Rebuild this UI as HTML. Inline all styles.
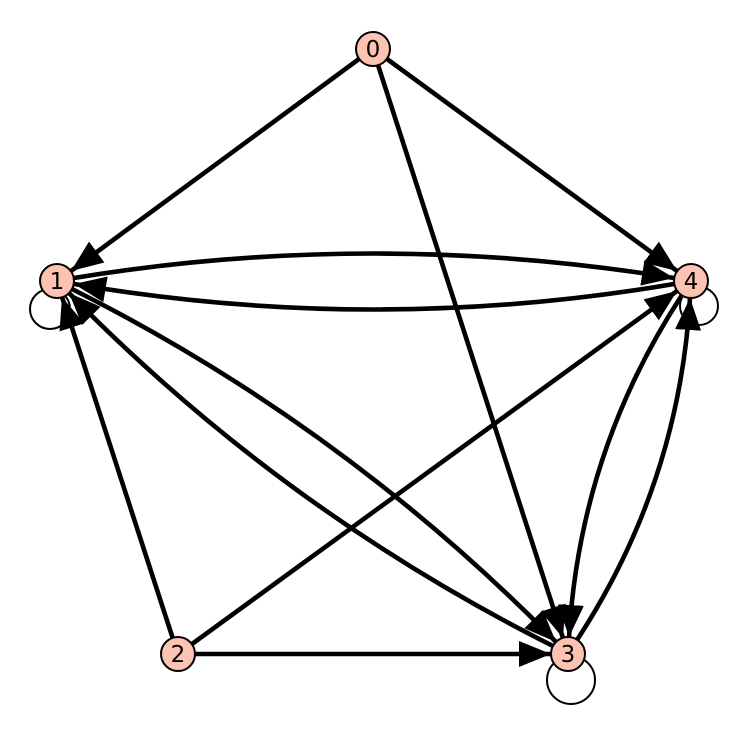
<!DOCTYPE html>
<html><head><meta charset="utf-8"><style>html,body{margin:0;padding:0;background:#fff}svg{display:block}</style></head>
<body>
<svg width="746" height="733" viewBox="0 0 746 733" xmlns="http://www.w3.org/2000/svg">
<defs>
<marker id="a" markerUnits="userSpaceOnUse" markerWidth="34" markerHeight="28" refX="32" refY="13" orient="auto">
<path d="M0,0 L32,13 L0,26 Z" fill="#000"/>
</marker>
</defs>
<g fill="none" stroke="#000" stroke-width="2">
<circle cx="50" cy="309" r="20"/>
<circle cx="571" cy="680" r="24"/>
<circle cx="699" cy="306" r="19"/>
</g>
<g fill="none" stroke="#000" stroke-width="4.6" marker-end="url(#a)">
<line x1="359" y1="59" x2="71" y2="271"/>
<line x1="387" y1="59" x2="677" y2="271"/>
<line x1="378" y1="65" x2="563" y2="638"/>
<line x1="173" y1="639" x2="62" y2="297"/>
<line x1="192" y1="644" x2="677" y2="291"/>
<line x1="194" y1="654" x2="551" y2="654"/>
<path d="M74,278 Q374,229 674,278"/>
<path d="M674,284 Q374,335 74,284"/>
<path d="M72,289 Q343,425 556,642"/>
<path d="M553,646 Q282,510 69,293"/>
<path d="M682,295 Q580,451 569,637"/>
<path d="M577,640 Q679,484 690,298"/>
</g>
<g stroke="#000" stroke-width="2" fill="#fcc2b2">
<circle cx="373" cy="49" r="17"/>
<circle cx="57" cy="281" r="17"/>
<circle cx="691" cy="281" r="17"/>
<circle cx="178" cy="654" r="17"/>
<circle cx="568" cy="654" r="17"/>
</g>
<g font-family="DejaVu Sans, Liberation Sans, sans-serif" font-size="23" text-anchor="middle" fill="#000">
<text x="373" y="57">0</text>
<text x="57" y="289">1</text>
<text x="691" y="289">4</text>
<text x="178" y="662">2</text>
<text x="568" y="662">3</text>
</g>
</svg>
</body></html>
